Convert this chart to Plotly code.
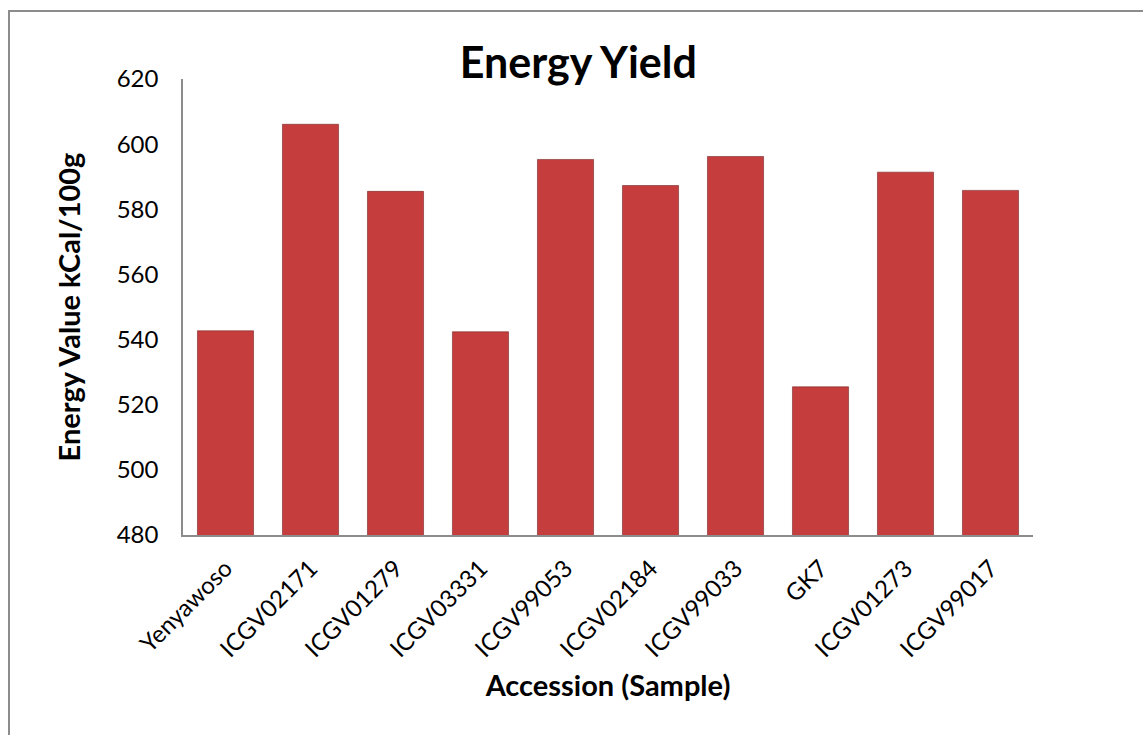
import plotly.graph_objects as go

# Energy yield per accession
accessions = ["Yenyawoso", "ICGV02171", "ICGV01279", "ICGV03331", "ICGV99053",
              "ICGV02184", "ICGV99033", "GK7", "ICGV01273", "ICGV99017"]
energy_kcal = [542.7, 606.1, 585.5, 542.4, 595.3, 587.3, 596.2, 525.5, 591.4, 585.8]
y_ticks = [480, 500, 520, 540, 560, 580, 600, 620]

FONT = "Lato"

fig = go.Figure()
fig.add_trace(go.Bar(
    x=accessions,
    y=energy_kcal,
    marker=dict(color="#C63D3D", line=dict(color="rgba(110,30,30,0.55)", width=1)),
    hoverinfo="x+y",
))

fig.update_layout(
    width=1143, height=735,
    margin=dict(l=183, r=110, t=79, b=200),
    paper_bgcolor="white", plot_bgcolor="white",
    bargap=0.34,
    showlegend=False,
    font=dict(family=FONT, color="black", size=24),
    title=dict(text="<b>Energy Yield</b>", x=0.506, xanchor="center",
               y=0.914, yanchor="middle",
               font=dict(family=FONT, size=43, color="black")),
    xaxis=dict(
        tickangle=-45,
        showline=True, linecolor="#8c8c8c", linewidth=1.5,
        showgrid=False, ticks="",
        ticklabelstandoff=8,
        tickfont=dict(size=24),
        title=dict(text="<b>Accession (Sample)</b>", font=dict(size=29), standoff=14),
    ),
    yaxis=dict(
        range=[480, 620], tickvals=y_ticks,
        showline=True, linecolor="#8c8c8c", linewidth=1.5,
        showgrid=False, ticks="", zeroline=False,
        ticklabelstandoff=18,
        tickfont=dict(size=24),
        title=dict(text="<b>Energy Value kCal/100g</b>", font=dict(size=29), standoff=28),
    ),
)

# Chart frame
fig.add_shape(type="rect", xref="paper", yref="paper",
              x0=-0.2047, x1=1.15, y0=-0.5, y1=1.149,
              line=dict(color="#8c8c8c", width=2), layer="below")

fig.write_html("out.html")
